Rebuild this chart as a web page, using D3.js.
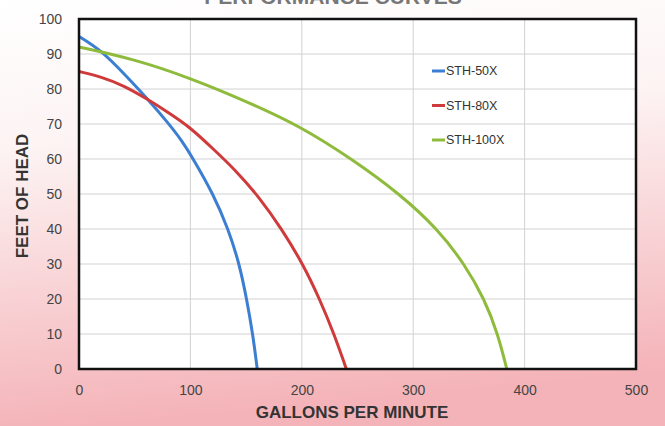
<!DOCTYPE html>
<html>
<head>
<meta charset="utf-8">
<script src="https://cdn.jsdelivr.net/npm/d3@7"></script>
<style>
  body { margin: 0; padding: 0; }
  #container { width: 665px; height: 426px; }
  text { font-family: "Liberation Sans", Arial, sans-serif; }
</style>
</head>
<body>
<div id="container"></div>
<script>
var width = 665,
    height = 426,
    margin = { left: 79, top: 19, right: 29, bottom: 57 },
    g_width = width - margin.left - margin.right,
    g_height = height - margin.top - margin.bottom;

// data (gpm, feet of head)
var series_names = ['STH-50X', 'STH-80X', 'STH-100X'];
var series_colors = ['#3c7ed2', '#cf3b3b', '#8fbb3c'];
var sth50_gpm  = [0, 20, 40, 62, 80, 92, 102.6, 120.5, 134, 144, 150.5, 156, 160];
var sth50_head = [95, 91, 84.5, 77, 70.3, 65.4, 60, 50, 40, 30, 20, 10, 0];
var sth80_gpm  = [0, 20, 40, 62, 80, 100, 120, 140, 162, 182, 201, 216, 229, 240];
var sth80_head = [85, 83.5, 81, 77, 73.3, 69, 63, 57, 49, 40, 30, 20, 10, 0];
var sth100_gpm  = [0, 50, 101, 150, 198, 245, 288, 322, 346, 364, 376, 384];
var sth100_head = [92, 88.5, 83, 76.5, 69.5, 60, 50, 40, 30, 20, 10, 0];
var x_ticks = [0, 100, 200, 300, 400, 500];
var y_ticks = [0, 10, 20, 30, 40, 50, 60, 70, 80, 90, 100];

var series = [
  d3.zip(sth50_gpm, sth50_head),
  d3.zip(sth80_gpm, sth80_head),
  d3.zip(sth100_gpm, sth100_head)
];

var svg = d3.select('#container')
    .append('svg')
    .attr('width', width)
    .attr('height', height);

// background gradient
var grad = svg.append('defs').append('linearGradient')
    .attr('id', 'bg')
    .attr('x1', 0).attr('y1', 0).attr('x2', 0.15).attr('y2', 1);
grad.append('stop').attr('offset', '0%').attr('stop-color', '#ffffff');
grad.append('stop').attr('offset', '35%').attr('stop-color', '#fdf3f3');
grad.append('stop').attr('offset', '100%').attr('stop-color', '#f4b3b8');
svg.append('rect')
    .attr('width', width)
    .attr('height', height)
    .attr('fill', 'url(#bg)');

// title, cut off at the top like in the source
svg.append('text')
    .attr('x', 333)
    .attr('y', 4)
    .attr('text-anchor', 'middle')
    .attr('font-size', 21)
    .attr('font-weight', 'bold')
    .attr('fill', '#777')
    .text('PERFORMANCE CURVES');

var g = svg.append('g')
    .attr('transform', 'translate(' + margin.left + ',' + margin.top + ')');

var scale_x = d3.scaleLinear()
    .domain([0, 500])
    .range([0, g_width]);
var scale_y = d3.scaleLinear()
    .domain([0, 100])
    .range([g_height, 0]);

g.append('rect')
    .attr('width', g_width)
    .attr('height', g_height)
    .attr('fill', '#fff');

// grid
g.selectAll('.hgrid')
    .data(y_ticks)
    .enter().append('line')
    .attr('x1', 0).attr('x2', g_width)
    .attr('y1', function (d) { return scale_y(d); })
    .attr('y2', function (d) { return scale_y(d); })
    .attr('stroke', '#d2d2d2');
g.selectAll('.vgrid')
    .data(x_ticks)
    .enter().append('line')
    .attr('y1', 0).attr('y2', g_height)
    .attr('x1', function (d) { return scale_x(d); })
    .attr('x2', function (d) { return scale_x(d); })
    .attr('stroke', '#d2d2d2');

// axes
var x_axis = d3.axisBottom(scale_x).tickValues(x_ticks).tickSize(0).tickPadding(16);
var y_axis = d3.axisLeft(scale_y).tickValues(y_ticks).tickSize(0).tickPadding(17);
var gx = g.append('g')
    .attr('transform', 'translate(0,' + g_height + ')')
    .call(x_axis);
var gy = g.append('g').call(y_axis);
[gx, gy].forEach(function (a) {
  a.select('.domain').remove();
  a.selectAll('text')
    .attr('font-size', 14)
    .attr('fill', '#444')
    .style('font-family', '"Liberation Sans", Arial, sans-serif');
});

// lines (basis smooths out reading noise)
var line_generator = d3.line()
    .x(function (d) { return scale_x(d[0]); })
    .y(function (d) { return scale_y(d[1]); })
    .curve(d3.curveBasis);

g.selectAll('.curve')
    .data(series)
    .enter().append('path')
    .attr('d', line_generator)
    .attr('fill', 'none')
    .attr('stroke', function (d, i) { return series_colors[i]; })
    .attr('stroke-width', 3);

// border
g.append('rect')
    .attr('width', g_width)
    .attr('height', g_height)
    .attr('fill', 'none')
    .attr('stroke', '#111')
    .attr('stroke-width', 2.5);

// legend
var legend = g.selectAll('.legend')
    .data(series_names)
    .enter().append('g')
    .attr('transform', function (d, i) { return 'translate(353,' + (52 + i * 34.5) + ')'; });
legend.append('line')
    .attr('x1', 0).attr('x2', 13)
    .attr('stroke', function (d, i) { return series_colors[i]; })
    .attr('stroke-width', 3);
legend.append('text')
    .attr('x', 14)
    .attr('dy', '0.35em')
    .attr('font-size', 12.5)
    .attr('fill', '#333')
    .text(function (d) { return d; });

// axis titles
svg.append('text')
    .attr('x', 352)
    .attr('y', 418)
    .attr('text-anchor', 'middle')
    .attr('font-size', 17)
    .attr('font-weight', 'bold')
    .attr('fill', '#333')
    .text('GALLONS PER MINUTE');
svg.append('text')
    .attr('transform', 'translate(28,196) rotate(-90)')
    .attr('text-anchor', 'middle')
    .attr('font-size', 17)
    .attr('font-weight', 'bold')
    .attr('fill', '#333')
    .text('FEET OF HEAD');
</script>
</body>
</html>
